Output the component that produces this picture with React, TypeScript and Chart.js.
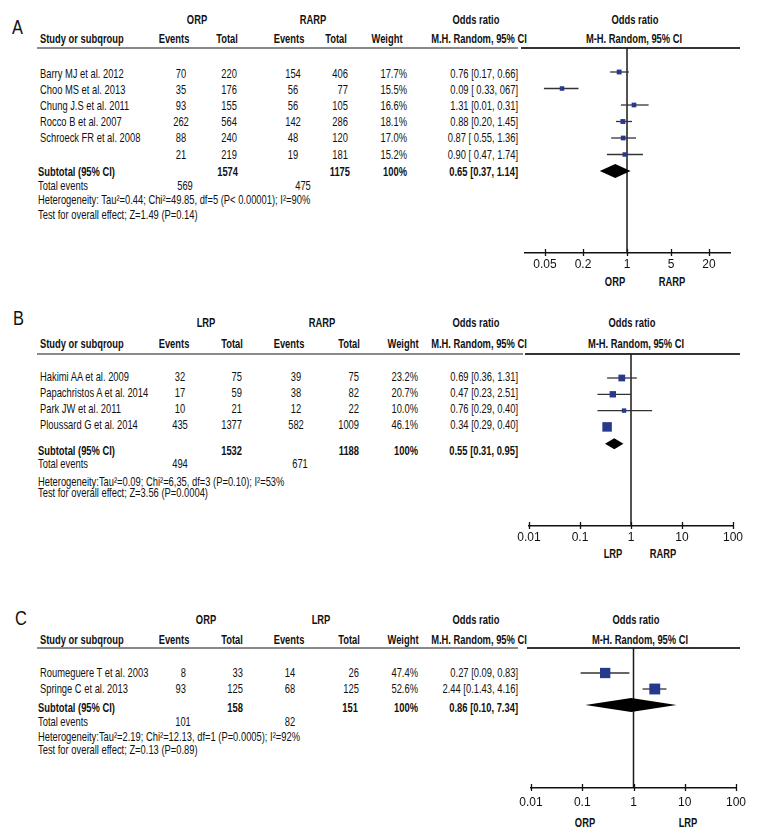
import React, { useEffect, useRef } from "react";
import { Chart, registerables } from "chart.js";
Chart.register(...registerables);

const FONT = '"Liberation Sans", Arial, sans-serif';
const SQUEEZE = 0.72;
const NAVY = "#27398c";

// ---------------- Panel A ----------------
const groupsA = ["ORP", "RARP"];
const studiesA = ["Barry MJ et al. 2012", "Choo MS et al. 2013", "Chung J.S et al. 2011", "Rocco B et al. 2007", "Schroeck FR et al. 2008", ""];
const eventsA1 = [70, 35, 93, 262, 88, 21];
const totalA1 = [220, 176, 155, 564, 240, 219];
const eventsA2 = [154, 56, 56, 142, 48, 19];
const totalA2 = [406, 77, 105, 286, 120, 181];
const weightA = [17.7, 15.5, 16.6, 18.1, 17.0, 15.2];
const ciTextA = ["0.76 [0.17, 0.66]", "0.09 [ 0.33, 067]", "1.31 [0.01, 0.31]", "0.88 [0.20, 1.45]", "0.87 [ 0.55, 1.36]", "0.90 [ 0.47, 1.74]"];
const orA = [0.75, 0.093, 1.29, 0.86, 0.87, 0.92];
const loA = [0.54, 0.048, 0.8, 0.67, 0.56, 0.48];
const hiA = [1.07, 0.17, 2.2, 1.2, 1.39, 1.79];
const subA = [0.65, 0.37, 1.14];
const subTextA = ["1574", "1175", "100%", "0.65 [0.37, 1.14]"];
const totalEventsA = ["569", "475"];
const hetA = "Heterogeneity: Tau²=0.44; Chi²=49.85, df=5 (P< 0.00001); I²=90%";
const testA = "Test for overall effect; Z=1.49 (P=0.14)";
const ticksA = [0.05, 0.2, 1, 5, 20];
const tickLabelsA = ["0.05", "0.2", "1", "5", "20"];

// ---------------- Panel B ----------------
const groupsB = ["LRP", "RARP"];
const studiesB = ["Hakimi AA et al. 2009", "Papachristos A et al. 2014", "Park JW et al. 2011", "Ploussard G et al. 2014"];
const eventsB1 = [32, 17, 10, 435];
const totalB1 = [75, 59, 21, 1377];
const eventsB2 = [39, 38, 12, 582];
const totalB2 = [75, 82, 22, 1009];
const weightB = [23.2, 20.7, 10.0, 46.1];
const ciTextB = ["0.69 [0.36, 1.31]", "0.47 [0.23, 2.51]", "0.76 [0.29, 0.40]", "0.34 [0.29, 0.40]"];
const orB = [0.66, 0.44, 0.73, 0.34];
const loB = [0.34, 0.22, 0.22, 0.3];
const hiB = [1.3, 1.0, 2.6, 0.39];
const subB = [0.47, 0.31, 0.71];
const subTextB = ["1532", "1188", "100%", "0.55 [0.31, 0.95]"];
const totalEventsB = ["494", "671"];
const hetB = "Heterogeneity:Tau²=0.09; Chi²=6,35, df=3 (P=0.10); I²=53%";
const testB = "Test for overall effect; Z=3.56 (P=0.0004)";
const ticksB = [0.01, 0.1, 1, 10, 100];
const tickLabelsB = ["0.01", "0.1", "1", "10", "100"];

// ---------------- Panel C ----------------
const groupsC = ["ORP", "LRP"];
const studiesC = ["Roumeguere T et al. 2003", "Springe C et al. 2013"];
const eventsC1 = [8, 93];
const totalC1 = [33, 125];
const eventsC2 = [14, 68];
const totalC2 = [26, 125];
const weightC = [47.4, 52.6];
const ciTextC = ["0.27 [0.09, 0.83]", "2.44 [0.1.43, 4.16]"];
const orC = [0.28, 2.6];
const loC = [0.093, 1.5];
const hiC = [0.83, 4.4];
const subC = [0.9, 0.115, 6.9];
const subTextC = ["158", "151", "100%", "0.86 [0.10, 7.34]"];
const totalEventsC = ["101", "82"];
const hetC = "Heterogeneity:Tau²=2.19; Chi²=12.13, df=1 (P=0.0005); I²=92%";
const testC = "Test for overall effect; Z=0.13 (P=0.89)";
const ticksC = [0.01, 0.1, 1, 10, 100];
const tickLabelsC = ["0.01", "0.1", "1", "10", "100"];

const dataA = { groups: groupsA, studies: studiesA, ev1: eventsA1, tot1: totalA1, ev2: eventsA2, tot2: totalA2, w: weightA, ci: ciTextA, or: orA, lo: loA, hi: hiA, sub: subA, subText: subTextA, totEv: totalEventsA, het: hetA, test: testA, ticks: ticksA, tickLabels: tickLabelsA };
const dataB = { groups: groupsB, studies: studiesB, ev1: eventsB1, tot1: totalB1, ev2: eventsB2, tot2: totalB2, w: weightB, ci: ciTextB, or: orB, lo: loB, hi: hiB, sub: subB, subText: subTextB, totEv: totalEventsB, het: hetB, test: testB, ticks: ticksB, tickLabels: tickLabelsB };
const dataC = { groups: groupsC, studies: studiesC, ev1: eventsC1, tot1: totalC1, ev2: eventsC2, tot2: totalC2, w: weightC, ci: ciTextC, or: orC, lo: loC, hi: hiC, sub: subC, subText: subTextC, totEv: totalEventsC, het: hetC, test: testC, ticks: ticksC, tickLabels: tickLabelsC };

// ---------------- layout ----------------
const layoutA = {
  label: "A", labelX: 12, labelY: 27,
  h1y: 19, h1: [197, 313, 476, 635],
  h2y: 38, h2: [40, 174, 227, 289, 336, 387, 479, 634],
  rule: { y: 48, l: 37, r: 518, pl: 521, pr: 740 },
  rowY0: 72.5, rowStep: 16.2,
  cols: [[181, "c"], [237, "r"], [293, "c"], [348, "r"], [407, "r"], [518, "r"]],
  subY: 171, subCols: [[238, "r"], [350, "r"], [407, "r"], [518, "r"]],
  totEvY: 185, totEvX: [185, 303], hetY: 199, testY: 214,
  plot: { l: 500, t: 40, w: 260, h: 250, area: { l: 525, r: 730, t: 48, b: 253 }, row0: 72, step: 16.5, subRow: 6, half: 7, k: 1.15, xMin: 0.02404, xMax: 43.1, tickPad: 4 },
  bot: { y: 281, x: [615, 672] },
};
const layoutB = {
  label: "B", labelX: 13, labelY: 318,
  h1y: 322, h1: [206, 322, 476, 632],
  h2y: 343, h2: [40, 174, 232, 289, 349, 403, 479, 636],
  rule: { y: 354, l: 37, r: 523, pl: 525, pr: 740 },
  rowY0: 376, rowStep: 16,
  cols: [[180, "c"], [242, "r"], [296, "c"], [359, "r"], [418, "r"], [518, "r"]],
  subY: 450, subCols: [[242, "r"], [359, "r"], [418, "r"], [518, "r"]],
  totEvY: 463, totEvX: [180, 300], hetY: 481, testY: 492,
  plot: { l: 500, t: 346, w: 260, h: 220, area: { l: 529, r: 733, t: 354, b: 526 }, row0: 378, step: 16.3, subRow: 4.03, half: 5.5, k: 1.4, xMin: 0.01, xMax: 100, tickPad: 4 },
  bot: { y: 553, x: [613, 663] },
};
const layoutC = {
  label: "C", labelX: 15, labelY: 618,
  h1y: 619, h1: [206, 321, 476, 636],
  h2y: 639, h2: [40, 174, 232, 289, 349, 403, 479, 640],
  rule: { y: 648, l: 37, r: 518, pl: 527, pr: 740 },
  rowY0: 672, rowStep: 15.5,
  cols: [[186, "r"], [243, "r"], [290, "c"], [359, "r"], [418, "r"], [518, "r"]],
  subY: 707, subCols: [[243, "r"], [358, "r"], [418, "r"], [518, "r"]],
  totEvY: 721, totEvX: [183, 290], hetY: 736, testY: 749,
  plot: { l: 500, t: 640, w: 260, h: 195, area: { l: 531, r: 736, t: 648, b: 788 }, row0: 673, step: 16, subRow: 2, half: 7, k: 1.5, xMin: 0.01, xMax: 100, tickPad: 7 },
  bot: { y: 822, x: [585, 688] },
};

type TP = { x: number; y: number; a?: string; b?: boolean; s?: number; q?: number; children?: React.ReactNode };
function T({ x, y, a = "l", b = false, s = 13, q = SQUEEZE, children }: TP) {
  const tx = a === "l" ? "0" : a === "c" ? "-50%" : "-100%";
  const origin = a === "l" ? "left center" : a === "c" ? "center center" : "right center";
  return (
    <div
      style={{
        position: "absolute", left: x, top: y,
        transform: `translate(${tx},-50%) scaleX(${q})`, transformOrigin: origin,
        whiteSpace: "nowrap", fontFamily: FONT, fontSize: s, fontWeight: b ? 700 : 400,
        lineHeight: 1, color: "#111",
      }}
    >
      {children}
    </div>
  );
}

function Forest({ d, L }: any) {
  const ref = useRef<HTMLCanvasElement>(null);
  const P = L.plot;
  useEffect(() => {
    const c = ref.current!;
    const yMin = (P.area.t - P.row0) / P.step;
    const yMax = (P.area.b - P.row0) / P.step;
    const AXH = 24;
    const datasets: any[] = [
      {
        data: d.or.map((v: number, i: number) => ({ x: v, y: i })),
        showLine: false, pointStyle: "rect",
        pointRadius: d.w.map((w: number) => (Math.sqrt(w) * P.k) / Math.SQRT2),
        pointBackgroundColor: NAVY, pointBorderWidth: 0, order: 0,
      },
      ...d.lo.map((l: number, i: number) => ({
        data: [{ x: l, y: i }, { x: d.hi[i], y: i }],
        borderColor: "#333", borderWidth: 1.3, pointRadius: 0, order: 1,
      })),
      { data: [{ x: 1, y: yMin }, { x: 1, y: yMax }], borderColor: "#1a1a1a", borderWidth: 1.5, pointRadius: 0, order: 2 },
    ];
    const plugin = {
      id: "forestExtras",
      afterDatasetsDraw(chart: any) {
        const { ctx, scales } = chart;
        const x = scales.x, y = scales.y;
        const [est, lo, hi] = d.sub;
        const cy = y.getPixelForValue(P.subRow);
        ctx.save();
        ctx.beginPath();
        ctx.moveTo(x.getPixelForValue(lo), cy);
        ctx.lineTo(x.getPixelForValue(est), cy - P.half);
        ctx.lineTo(x.getPixelForValue(hi), cy);
        ctx.lineTo(x.getPixelForValue(est), cy + P.half);
        ctx.closePath();
        ctx.fillStyle = "#000";
        ctx.fill();
        ctx.restore();
      },
      afterDraw(chart: any) {
        const { ctx, scales, chartArea } = chart;
        ctx.save();
        ctx.strokeStyle = "#111";
        ctx.lineWidth = 1.3;
        d.ticks.forEach((v: number) => {
          const px = Math.round(scales.x.getPixelForValue(v)) + 0.5;
          ctx.beginPath();
          ctx.moveTo(px, chartArea.bottom - 4);
          ctx.lineTo(px, chartArea.bottom + 3);
          ctx.stroke();
        });
        ctx.restore();
      },
    };
    const chart = new Chart(c, {
      type: "line",
      data: { datasets },
      options: {
        responsive: false,
        animation: false,
        events: [],
        layout: {
          padding: {
            left: P.area.l - P.l,
            right: P.l + P.w - P.area.r,
            top: P.area.t - P.t,
            bottom: P.t + P.h - P.area.b - AXH,
          },
        },
        plugins: { legend: { display: false }, tooltip: { enabled: false } },
        scales: {
          x: {
            type: "logarithmic", min: P.xMin, max: P.xMax, bounds: "data",
            afterBuildTicks: (s: any) => { s.ticks = d.ticks.map((v: number) => ({ value: v })); },
            afterFit: (s: any) => { s.height = AXH; },
            grid: { display: false, drawTicks: false, tickLength: 0 },
            border: { display: true, color: "#111", width: 1.5 },
            ticks: {
              autoSkip: false, maxRotation: 0, minRotation: 0, padding: P.tickPad, color: "#111",
              font: { family: FONT, size: 12 },
              callback: (_v: any, i: number) => d.tickLabels[i],
            },
          },
          y: { type: "linear", display: false, reverse: true, min: yMin, max: yMax },
        },
      },
      plugins: [plugin],
    } as any);
    return () => chart.destroy();
  }, []);
  return (
    <canvas ref={ref} width={P.w} height={P.h}
      style={{ position: "absolute", left: P.l, top: P.t, width: P.w, height: P.h }} />
  );
}

function Panel({ d, L }: any) {
  const out: React.ReactNode[] = [];
  let k = 0;
  const add = (x: number, y: number, a: string, txt: React.ReactNode, b = false, s = 13, q = SQUEEZE) =>
    out.push(<T key={k++} x={x} y={y} a={a} b={b} s={s} q={q}>{txt}</T>);
  add(L.labelX, L.labelY, "l", L.label, false, 20, 0.82);
  add(L.h1[0], L.h1y, "c", d.groups[0], true);
  add(L.h1[1], L.h1y, "c", d.groups[1], true);
  add(L.h1[2], L.h1y, "c", "Odds ratio", true);
  add(L.h1[3], L.h1y, "c", "Odds ratio", true);
  const h2 = ["Study or subqroup", "Events", "Total", "Events", "Total", "Weight", "M.H. Random, 95% CI", "M-H. Random, 95% CI"];
  h2.forEach((t, i) => add(L.h2[i], L.h2y, i === 0 ? "l" : "c", t, true));
  d.studies.forEach((s: string, i: number) => {
    const y = L.rowY0 + i * L.rowStep;
    if (s) add(40, y, "l", s);
    const vals = [d.ev1[i], d.tot1[i], d.ev2[i], d.tot2[i], d.w[i].toFixed(1) + "%", d.ci[i]];
    vals.forEach((v: any, j: number) => add(L.cols[j][0], y, L.cols[j][1], String(v)));
  });
  add(38, L.subY, "l", "Subtotal (95% CI)", true);
  d.subText.forEach((t: string, j: number) => add(L.subCols[j][0], L.subY, L.subCols[j][1], t, true));
  add(38, L.totEvY, "l", "Total events");
  add(L.totEvX[0], L.totEvY, "c", d.totEv[0]);
  add(L.totEvX[1], L.totEvY, "c", d.totEv[1]);
  add(38, L.hetY, "l", d.het);
  add(38, L.testY, "l", d.test);
  add(L.bot.x[0], L.bot.y, "c", d.groups[0], true);
  add(L.bot.x[1], L.bot.y, "c", d.groups[1], true);
  const R = L.rule;
  return (
    <>
      <div style={{ position: "absolute", left: R.l, top: R.y - 1, width: R.r - R.l, height: 2, background: "#8a8a8a" }} />
      <div style={{ position: "absolute", left: R.pl, top: R.y - 0.75, width: R.pr - R.pl, height: 1.5, background: "#333" }} />
      {out}
      <Forest d={d} L={L} />
    </>
  );
}

export default function App() {
  return (
    <div style={{ position: "absolute", left: 0, top: 0, width: 780, height: 840, background: "#fff", overflow: "hidden" }}>
      <Panel d={dataA} L={layoutA} />
      <Panel d={dataB} L={layoutB} />
      <Panel d={dataC} L={layoutC} />
    </div>
  );
}
